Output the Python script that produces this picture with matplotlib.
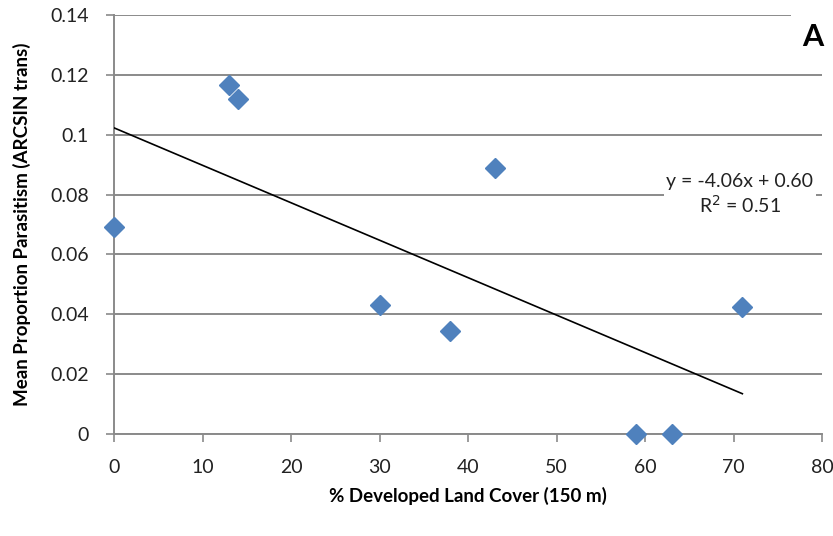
import numpy as np
import matplotlib
matplotlib.use("Agg")
import matplotlib.pyplot as plt

plt.rcParams['font.family'] = ['Lato', 'DejaVu Sans']

# Site-level data
developed_pct = [0, 13, 14, 30, 38, 43, 59, 63, 71]
parasitism = [0.069, 0.1165, 0.112, 0.043, 0.0345, 0.089, 0.0, 0.0, 0.0425]
x_ticks = [0, 10, 20, 30, 40, 50, 60, 70, 80]
y_ticks = [0, 0.02, 0.04, 0.06, 0.08, 0.1, 0.12, 0.14]
y_tick_labels = ['0', '0.02', '0.04', '0.06', '0.08', '0.1', '0.12', '0.14']
equation_text = "y = -4.06x + 0.60\nR$^2$ = 0.51"
panel_label = "A"

fig = plt.figure(figsize=(8.33, 5.36), dpi=100)
ax = fig.add_axes([0.1369, 0.1903, 0.8499, 0.7817])

grid_color = '#8a8a8a'
ax.set_xlim(0, 80)
ax.set_ylim(0, 0.14)
ax.set_xticks(x_ticks)
ax.set_yticks(y_ticks)
ax.set_yticklabels(y_tick_labels)
ax.yaxis.grid(True, color=grid_color, linewidth=1.4, zorder=0)
ax.set_axisbelow(True)
for side in ['top', 'right']:
    ax.spines[side].set_visible(False)
for side in ['left', 'bottom']:
    ax.spines[side].set_color(grid_color)
    ax.spines[side].set_linewidth(1.4)
ax.tick_params(axis='both', colors=grid_color, direction='out', length=6,
               width=1.2, labelsize=14, labelcolor='#222222')
ax.tick_params(axis='x', pad=12)
ax.tick_params(axis='y', pad=12)

# Least-squares trend line over the observed range
slope, intercept = np.polyfit(developed_pct, parasitism, 1)
xs = np.array([min(developed_pct), max(developed_pct)])
ax.plot(xs, slope * xs + intercept, color='black', linewidth=1.2, zorder=3)

ax.plot(developed_pct, parasitism, linestyle='none', marker='D',
        markersize=10, color='#4f81bd', markeredgecolor='#4f81bd',
        clip_on=False, zorder=4)

ax.text(0.884, 0.572, equation_text, transform=ax.transAxes, ha='center',
        va='center', fontsize=14, color='#222222', linespacing=1.25,
        bbox=dict(facecolor='white', edgecolor='none', pad=2), zorder=5)
ax.text(0.987, 0.948, panel_label, transform=ax.transAxes, ha='center',
        va='center', fontsize=22, fontweight='bold', color='black',
        bbox=dict(facecolor='white', edgecolor='none', pad=8), zorder=5)

ax.set_xlabel('% Developed Land Cover (150 m)', fontsize=13.5, fontweight='bold',
              labelpad=8)
ax.set_ylabel('Mean Proportion Parasitism (ARCSIN trans)', fontsize=13.5,
              fontweight='bold', labelpad=14)

fig.savefig('out.png', dpi=100)
